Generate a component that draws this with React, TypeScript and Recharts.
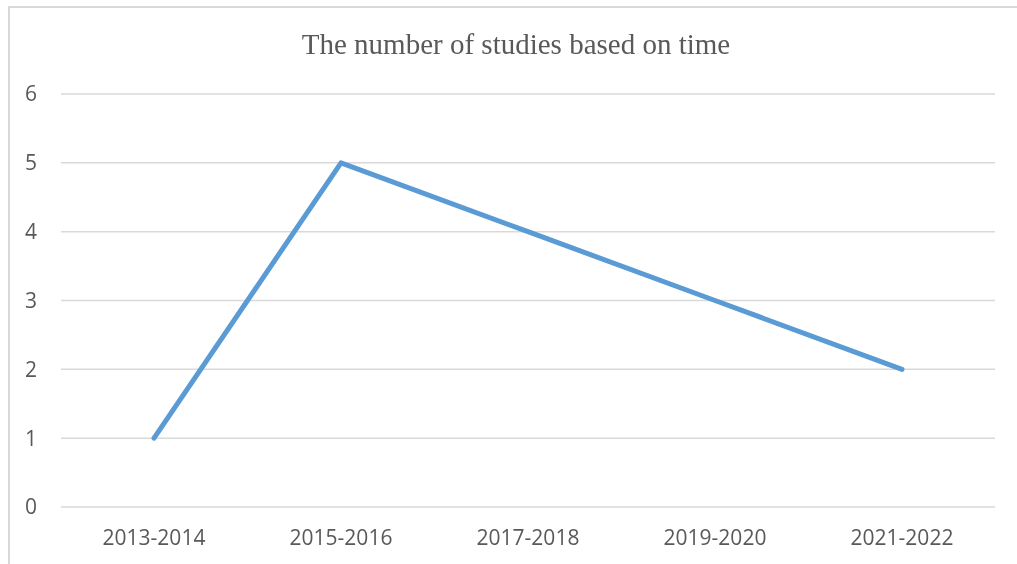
import { LineChart, Line, XAxis, YAxis, CartesianGrid } from 'recharts';

const periods = ['2013-2014', '2015-2016', '2017-2018', '2019-2020', '2021-2022'];
const studies = [1, 5, 4, 3, 2];
const yTicks = [0, 1, 2, 3, 4, 5, 6];

const data = periods.map((p, i) => ({ name: p, value: studies[i] }));

const labelFont = "'Open Sans', 'Liberation Sans', sans-serif";

export default function App() {
  return (
    <div>
      <div
        style={{
          position: 'fixed',
          left: 8,
          top: 6,
          width: 1020,
          height: 570,
          borderTop: '2px solid #d9d9d9',
          borderLeft: '2px solid #d9d9d9',
          boxSizing: 'border-box',
        }}
      />
      <div style={{ position: 'fixed', left: 0, top: 0 }}>
        <LineChart width={1017} height={564} data={data} margin={{ top: 94, right: 22, left: 0, bottom: 0 }}>
          <text
            x={516}
            y={54}
            textAnchor="middle"
            fill="#595959"
            style={{ fontFamily: "'Liberation Serif', 'Times New Roman', serif", fontSize: 29 }}
          >
            The number of studies based on time
          </text>
          <CartesianGrid vertical={false} stroke="#d9d9d9" strokeWidth={1.5} />
          <XAxis
            dataKey="name"
            height={57}
            padding={{ left: 93, right: 93 }}
            axisLine={false}
            tickLine={false}
            tickSize={0}
            tickMargin={23}
            tick={{ fill: '#595959', fontSize: 21, fontFamily: labelFont }}
          />
          <YAxis
            width={61}
            domain={[0, 6]}
            ticks={yTicks}
            axisLine={false}
            tickLine={false}
            tickSize={0}
            tickMargin={24}
            tick={{ fill: '#595959', fontSize: 21, fontFamily: labelFont }}
          />
          <Line
            type="linear"
            dataKey="value"
            stroke="#5b9bd5"
            strokeWidth={5}
            strokeLinecap="round"
            strokeLinejoin="round"
            dot={false}
            activeDot={false}
            isAnimationActive={false}
          />
        </LineChart>
      </div>
    </div>
  );
}
